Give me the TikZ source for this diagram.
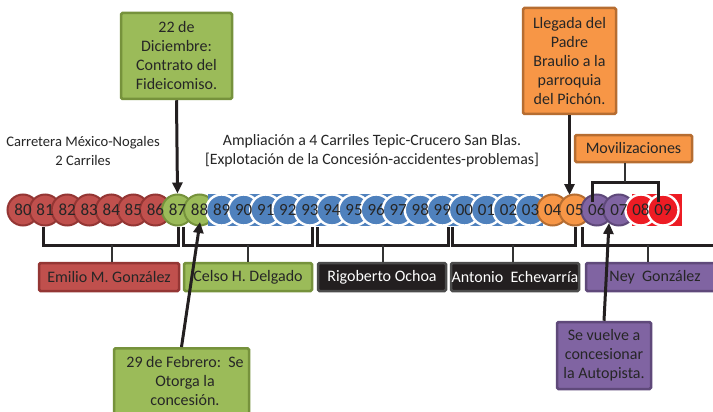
\documentclass[tikz,border=0pt]{standalone}
\usepackage{fontspec}
\setmainfont{Carlito}
\usetikzlibrary{arrows.meta,calc}
\definecolor{txt}{HTML}{262626}
\definecolor{redF}{HTML}{C0504D}\definecolor{redD}{HTML}{943634}
\definecolor{grnF}{HTML}{9BBB59}\definecolor{grnD}{HTML}{76923C}
\definecolor{bluF}{HTML}{4F81BD}
\definecolor{orgF}{HTML}{F79646}\definecolor{orgD}{HTML}{B66D31}
\definecolor{purF}{HTML}{8064A2}\definecolor{purD}{HTML}{5F497A}
\definecolor{brR}{HTML}{ED1C24}
\definecolor{blk}{HTML}{231F20}
\newcommand\myfs{\fontsize{16}{19}\selectfont}
\newcommand\cirfs{\fontsize{17}{19}\selectfont}
\newcommand\topfs{\fontsize{14.6}{19}\selectfont}
\newcommand\ampfs{\fontsize{15.8}{19}\selectfont}
\tikzset{
  yr/.style={circle, minimum size=31pt, inner sep=0pt, line width=2pt},
  ylab/.style={font=\cirfs, text=txt, inner sep=0pt},
  rc/.style={fill=redF, draw=redD},
  gc/.style={fill=grnF, draw=grnD},
  bc/.style={fill=bluF, draw=white, line width=2.4pt},
  oc/.style={fill=orgF, draw=orgD},
  pc/.style={fill=purF, draw=purD},
  xc/.style={fill=brR, draw=white, line width=2.4pt},
  tbox/.style={rectangle, line width=2.5pt, rounded corners=1.5pt, align=center, font=\myfs, text=txt, inner sep=0pt},
  brk/.style={line width=3pt, blk},
  tick/.style={line width=2pt, black!80},
  arr/.style={line width=3pt, blk, -{Triangle[length=11pt,width=10pt]}},
  plain/.style={align=center, font=\myfs, text=txt}
}
\begin{document}
\begin{tikzpicture}[x=1pt,y=-1pt]
\clip (0,0) rectangle (713,412);
\fill[white] (0,0) rectangle (713,412);

% year circles
\foreach \i/\l in {0/80,1/81,2/82,3/83,4/84,5/85,6/86}
  \node[yr,rc] (c\l) at ({23+22.07*\i},210) {};
\foreach \i/\l in {7/87,8/88}
  \node[yr,gc] (c\l) at ({23+22.07*\i},210) {};
\fill[bluF] (208,194) rectangle (543,226);
\foreach \i/\l in {9/89,10/90,11/91,12/92,13/93,14/94,15/95,16/96,17/97,18/98,19/99,20/00,21/01,22/02,23/03}
  \node[yr,bc] (c\l) at ({23+22.07*\i},210) {};
\foreach \i/\l in {24/04,25/05}
  \node[yr,oc] (c\l) at ({23+22.07*\i},210) {};
\foreach \i/\l in {26/06,27/07}
  \node[yr,pc] (c\l) at ({23+22.07*\i},210) {};
\fill[brR] (632,194) rectangle (682,226);
\foreach \i/\l in {28/08,29/09}
  \node[yr,xc] (c\l) at ({23+22.07*\i},210) {};
% year labels on top
\foreach \l in {80,81,82,83,84,85,86,87,88,89,90,91,92,93,94,95,96,97,98,99,00,01,02,03,04,05,06,07,08,09}
  \node[ylab] (l\l) at (c\l) {\l};

% top texts
\node[plain, font=\topfs] (carretera) at (83,150.5) {Carretera México-Nogales\\2 Carriles};
\node[plain, font=\ampfs] (ampliacion) at (372,150.5) {Ampliación a 4 Carriles Tepic-Crucero San Blas.\\{[Explotación de la Concesión-accidentes-problemas]}};

% president boxes
\node[tbox, fill=redF, draw=redD, minimum width=140, minimum height=28] (emilio) at (109,277) {Emilio M. González};
\node[tbox, fill=grnF, draw=grnD, minimum width=128, minimum height=28] (celso) at (248,277) {Celso H. Delgado};
\node[tbox, fill=blk, draw=black!70, text=white, minimum width=128, minimum height=28] (rigoberto) at (382,277) {Rigoberto Ochoa};
\node[tbox, fill=blk, draw=black!70, text=white, minimum width=128, minimum height=28] (antonio) at (515,277) {Antonio~~Echevarría};
\node[tbox, fill=purF, draw=purD, minimum width=138, minimum height=28] (ney) at (655,277) {Ney~~González};

% brackets
\coordinate (b1) at (112,245);
\coordinate (b2) at (248,245);
\coordinate (b3) at (383,245);
\coordinate (b4) at (513,245);
\coordinate (b5) at (648,245);
\draw[brk] (43,227) |- (178,245) -- (178,227);
\draw[brk] (183,227) |- (312,245) -- (312,227);
\draw[brk] (317,227) |- (448,245) -- (448,227);
\draw[brk] (452,227) |- (575,245) -- (575,227);
\draw[brk] (582,227) |- (720,245);
\draw[tick] (b1) -- (b1 |- emilio.north);
\draw[tick] (b2) -- (b2 |- celso.north);
\draw[tick] (b3) -- (b3 |- rigoberto.north);
\draw[tick] (b4) -- (b4 |- antonio.north);
\draw[tick] (b5) -- (b5 |- ney.north);

% event boxes
\node[tbox, fill=grnF, draw=grnD, minimum width=111, minimum height=86] (contrato) at (176.5,56) {22 de\\Diciembre:\\Contrato del\\Fideicomiso.};
\node[tbox, fill=orgF, draw=orgD, minimum width=93, minimum height=106] (llegada) at (569.5,61) {Llegada del\\Padre\\Braulio a la\\parroquia\\del Pichón.};
\node[tbox, fill=orgF, draw=orgD, minimum width=117, minimum height=27] (movil) at (633.5,148.5) {Movilizaciones};
\node[tbox, fill=grnF, draw=grnD, minimum width=135, minimum height=80, anchor=north] (febrero) at (181.5,347) {};
\node[plain] (febtext) at (185,381) {29 de Febrero:~~Se\\Otorga la\\concesión.};
\node[tbox, fill=purF, draw=purD, minimum width=94, minimum height=67] (vuelve) at (604,355.5) {Se vuelve a\\concesionar\\la Autopista.};

% movilizaciones bracket
\coordinate (mb) at (625,182);
\draw[brk] (592,202) |- (658,182) -- (658,202);
\draw[tick] (mb |- movil.south) -- (mb);

% arrows
\coordinate (t2) at (569.5,195);
\coordinate (t3) at (200,222);
\coordinate (t4) at (609,223);
\draw[arr] (contrato.south) -- (c87.north);
\draw[arr] (llegada.south) -- (t2);
\draw[arr] (febrero.north) -- (t3);
\draw[arr] (vuelve.north) -- (t4);
\end{tikzpicture}
\end{document}
